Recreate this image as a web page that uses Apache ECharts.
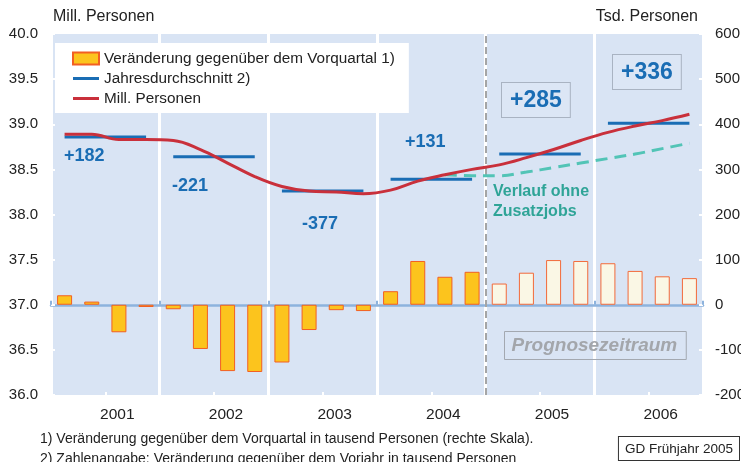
<!DOCTYPE html>
<html>
<head>
<meta charset="utf-8">
<script src="https://cdn.jsdelivr.net/npm/echarts@6/dist/echarts.min.js"></script>
<style>
  html, body { margin: 0; padding: 0; background: #fff; }
  #main { width: 741px; height: 462px; }
</style>
</head>
<body>
<div id="main"></div>
<script>
const years = ['2001', '2002', '2003', '2004', '2005', '2006']
const quarters = years.flatMap(y => ['Q1', 'Q2', 'Q3', 'Q4'].map(q => `${y} ${q}`))

// Veränderung gegenüber Vorquartal, Tsd. Personen (rechte Skala)
const changeVsPrevQuarter = [21, 7, -61, -5, -10, -98, -147, -149, -128, -56, -12, -14,
  30, 97, 62, 73, 47, 71, 99, 97, 92, 75, 63, 59]
// Erwerbstätige, Mill. Personen
const employedMill = [38.89, 38.89, 38.83, 38.83, 38.82, 38.72, 38.57, 38.42, 38.31, 38.26, 38.25, 38.23,
  38.27, 38.37, 38.44, 38.50, 38.55, 38.63, 38.72, 38.82, 38.91, 38.98, 39.04, 39.11]
// Verlauf ohne Zusatzjobs
const withoutExtraJobs = [null, null, null, null, null, null, null, null, null, null, null, null,
  null, null, 38.44, 38.43, 38.43, 38.47, 38.52, 38.57, 38.62, 38.67, 38.73, 38.79]
const annualAvg = [38.86, 38.64, 38.26, 38.39, 38.67, 39.01]
const annualChange = ['+182', '-221', '-377', '+131', '+285', '+336']
const firstForecastQuarter = 16

const FONT = 'Liberation Sans'
const BLUE = '#1a6db4'
const RED = '#c9303b'
const TEAL = '#52c4b6'
const BG = '#d9e4f4'

function build() {
  const bars = changeVsPrevQuarter.map((v, i) => {
    if (i < firstForecastQuarter) return v
    return { value: v, itemStyle: { color: '#faf7e5', borderColor: '#f26a3a' } }
  })
  // yearly average segments on the value x axis (quarter centres), broken between years
  const avg = []
  annualAvg.forEach((v, y) => {
    avg.push([y * 4 + 0.5, v], [y * 4 + 3.5, v])
    if (y < annualAvg.length - 1) avg.push('-')
  })
  return { bars, avg }
}

function render(chart) {
  const { bars, avg } = build()
  const labelStyle = { fill: BLUE, fontFamily: FONT, fontWeight: 'bold', fontSize: 18 }
  const bigLabel = {
    fill: BLUE, fontFamily: FONT, fontWeight: 'bold', fontSize: 23,
    backgroundColor: '#dce6f5', borderColor: '#a9b3c2', borderWidth: 1, padding: [6, 8, 5, 8],
  }

  chart.setOption({
    animation: false,
    textStyle: { fontFamily: FONT },
    grid: {
      left: 51, right: 38, top: 34, bottom: 67,
      outerBoundsMode: 'none',
      show: true, backgroundColor: BG, borderWidth: 0,
    },
    legend: {
      left: 55, top: 43, orient: 'vertical',
      backgroundColor: '#fff', padding: [8, 14, 7, 17], itemGap: 5,
      itemWidth: 26, itemHeight: 12,
      textStyle: { fontSize: 15.3, color: '#222', fontFamily: FONT },
      data: [
        { name: 'Veränderung gegenüber dem Vorquartal 1)', icon: 'rect' },
        { name: 'Jahresdurchschnitt 2)', icon: 'path://M0,0H26V3H0Z' },
        { name: 'Mill. Personen', icon: 'path://M0,0H26V3H0Z' },
      ],
      selectedMode: false,
      z: 20,
    },
    xAxis: [
      {
        type: 'category', data: quarters, boundaryGap: true,
        axisLine: { show: false }, axisTick: { show: false }, axisLabel: { show: false },
      },
      {
        type: 'category', data: years, boundaryGap: true, position: 'bottom',
        axisLine: { show: false },
        axisTick: { show: true, inside: true, alignWithLabel: true, length: 3, lineStyle: { color: '#fff', width: 2 } },
        axisLabel: { fontSize: 15.5, color: '#222', margin: 12, padding: [0, 0, 0, 24] },
        splitLine: { show: true, lineStyle: { color: '#fff', width: 3 } },
      },
      {
        type: 'value', min: 0, max: 24, interval: 4, show: true,
        axisLine: { onZero: true, onZeroAxisIndex: 1, lineStyle: { color: '#8db3dd', width: 2.5 } },
        axisTick: { show: true, length: 4, lineStyle: { color: '#8db3dd', width: 2 } },
        axisLabel: { show: false }, splitLine: { show: false },
      },
    ],
    yAxis: [
      {
        type: 'value', min: 36, max: 40, interval: 0.5,
        name: 'Mill. Personen', nameGap: 9,
        nameTextStyle: { align: 'left', fontSize: 16, color: '#222', padding: [0, 0, 0, 2] },
        axisLine: { show: false },
        axisTick: { show: true, inside: true, length: 4, lineStyle: { color: '#fff', width: 2 } },
        axisLabel: { fontSize: 15, color: '#222', margin: 13, formatter: v => v.toFixed(1) },
        splitLine: { show: false },
      },
      {
        type: 'value', min: -200, max: 600, interval: 100, position: 'right',
        name: 'Tsd. Personen', nameGap: 9,
        nameTextStyle: { align: 'right', fontSize: 16, color: '#222', padding: [0, 5, 0, 0] },
        axisLine: { show: false },
        axisTick: { show: true, inside: true, length: 4, lineStyle: { color: '#fff', width: 2 } },
        axisLabel: { fontSize: 15, color: '#222', margin: 12 },
        splitLine: { show: false },
      },
    ],
    series: [
      {
        name: 'Veränderung gegenüber dem Vorquartal 1)',
        type: 'bar', xAxisIndex: 0, yAxisIndex: 1, barWidth: 15,
        itemStyle: { color: '#fcc41d', borderColor: '#f25f22', borderWidth: 1 },
        data: bars, z: 2,
      },
      {
        name: 'divider', type: 'line', xAxisIndex: 2, yAxisIndex: 1, data: [],
        markLine: {
          silent: true, symbol: 'none', label: { show: false },
          lineStyle: { color: '#a5a5a5', type: [7, 4], width: 2 },
          data: [{ xAxis: firstForecastQuarter }],
        },
        z: 3,
      },
      {
        name: 'Jahresdurchschnitt 2)',
        type: 'line', xAxisIndex: 2, yAxisIndex: 0, data: avg,
        showSymbol: false, connectNulls: false,
        lineStyle: { color: BLUE, width: 3 }, itemStyle: { color: BLUE }, z: 4,
      },
      {
        name: 'Verlauf ohne Zusatzjobs',
        type: 'line', xAxisIndex: 0, yAxisIndex: 0, data: withoutExtraJobs,
        showSymbol: false, smooth: 0.4,
        lineStyle: { color: TEAL, width: 3, type: [12, 7] }, itemStyle: { color: TEAL }, z: 5,
      },
      {
        name: 'Mill. Personen',
        type: 'line', xAxisIndex: 0, yAxisIndex: 0, data: employedMill,
        showSymbol: false, smooth: 0.4,
        lineStyle: { color: RED, width: 3 }, itemStyle: { color: RED }, z: 6,
      },
    ],
    graphic: [
      { type: 'text', left: 64, top: 147, z: 10, style: { text: annualChange[0], ...labelStyle } },
      { type: 'text', left: 172, top: 177, z: 10, style: { text: annualChange[1], ...labelStyle } },
      { type: 'text', left: 302, top: 215, z: 10, style: { text: annualChange[2], ...labelStyle } },
      { type: 'text', left: 405, top: 133, z: 10, style: { text: annualChange[3], ...labelStyle } },
      { type: 'text', left: 501, top: 82, z: 10, style: { text: annualChange[4], ...bigLabel } },
      { type: 'text', left: 612, top: 54, z: 10, style: { text: annualChange[5], ...bigLabel } },
      {
        type: 'text', left: 493, top: 182, z: 10,
        style: { text: 'Verlauf ohne\nZusatzjobs', fill: '#2fa497', fontFamily: FONT, fontWeight: 'bold', fontSize: 16, lineHeight: 20 },
      },
      {
        type: 'text', left: 504, top: 331, z: 10,
        style: {
          text: 'Prognosezeitraum', fill: '#a3a6ab', fontFamily: FONT, fontWeight: 'bold', fontStyle: 'italic', fontSize: 19,
          borderColor: '#a3a8b0', borderWidth: 1, padding: [5, 9, 4, 7],
        },
      },
      {
        type: 'text', left: 40, top: 432, z: 10,
        style: { text: '1) Veränderung gegenüber dem Vorquartal in tausend Personen (rechte Skala).', fill: '#222', fontFamily: FONT, fontSize: 14 },
      },
      {
        type: 'text', left: 40, top: 452, z: 10,
        style: { text: '2) Zahlenangabe: Veränderung gegenüber dem Vorjahr in tausend Personen', fill: '#222', fontFamily: FONT, fontSize: 14 },
      },
      {
        type: 'text', right: 1, top: 436, z: 10,
        style: {
          text: 'GD Frühjahr 2005', fill: '#222', fontFamily: FONT, fontSize: 13.5,
          backgroundColor: '#fff', borderColor: '#333', borderWidth: 1, padding: [5, 6, 4, 6],
        },
      },
    ],
  })
}

function main() {
  const chart = echarts.init(document.getElementById('main'))
  render(chart)
}

window.onload = main
</script>
</body>
</html>
